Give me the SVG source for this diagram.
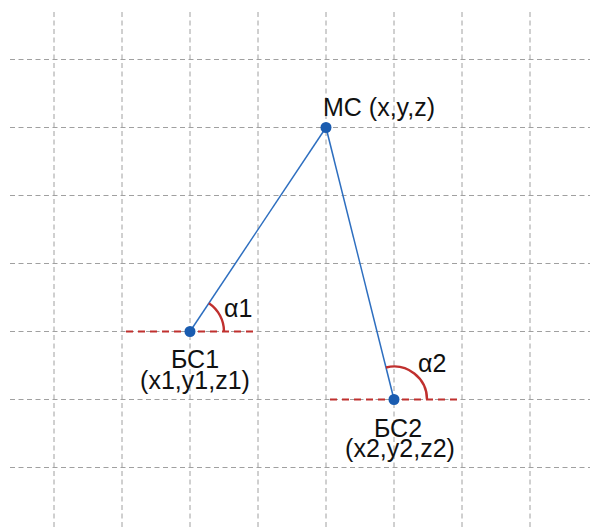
<svg xmlns="http://www.w3.org/2000/svg" width="590" height="530" viewBox="0 0 590 530">
<defs>
<style>
.grid{stroke:#a0a0a0;stroke-width:1;stroke-dasharray:5 3.5;fill:none}
.ref{stroke:#c0302e;stroke-width:2.2;stroke-dasharray:7 5;fill:none}
.edge{stroke:#2e6fc0;stroke-width:1.5;fill:none}
.arc{stroke:#c0302e;stroke-width:2.4;fill:none}
.dot{fill:#1a5cb0}
text{font-family:"Liberation Sans",Arial,sans-serif;font-size:25px;fill:#111}
</style>
</defs>
<rect width="590" height="530" fill="#fff"/>
<g id="grid">
<path class="grid" d="M54 12V530M122 12V530M190 12V530M258 12V530M326 12V530M394 12V530M462 12V530M530 12V530"/>
<path class="grid" d="M10 59.5H590M10 127.5H590M10 195.5H590M10 263.5H590M10 331.5H590M10 399.5H590M10 467.5H590"/>
</g>
<g id="connectors">
<line class="edge" x1="326" y1="127.5" x2="190" y2="331.5"/>
<line class="edge" x1="326" y1="127.5" x2="394" y2="399.5"/>
</g>
<g id="MC">
<circle class="dot" cx="326" cy="127.5" r="5.5"/>
<text x="323" y="116">MC (x,y,z)</text>
</g>
<g id="BS1">
<line class="ref" x1="126" y1="331.5" x2="258" y2="331.5"/>
<path class="arc" d="M208.9 303.2A34 34 0 0 1 224 331.5"/>
<circle class="dot" cx="190" cy="331.5" r="5.5"/>
<text x="224" y="317">α1</text>
<text x="195" y="368" text-anchor="middle">БС1</text>
<text x="195" y="389" text-anchor="middle">(x1,y1,z1)</text>
</g>
<g id="BS2">
<line class="ref" x1="330" y1="399.5" x2="462" y2="399.5"/>
<path class="arc" d="M386 367.5A33 33 0 0 1 427 399.5"/>
<circle class="dot" cx="394" cy="399.5" r="5.5"/>
<text x="418" y="372">α2</text>
<text x="398" y="437" text-anchor="middle">БС2</text>
<text x="400" y="457" text-anchor="middle">(x2,y2,z2)</text>
</g>
</svg>
